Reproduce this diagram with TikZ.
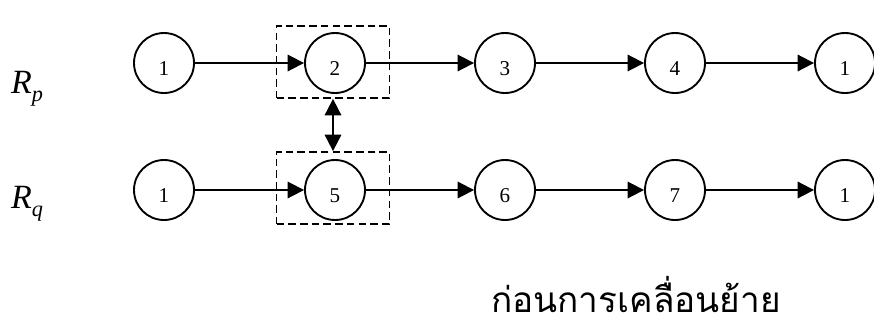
\documentclass[tikz,border=0pt]{standalone}
\usepackage{fontspec}
\setmainfont{Liberation Serif}
\newfontfamily\thaifont[Script=Thai]{Loma}
\usetikzlibrary{arrows.meta,positioning}

\begin{document}
\begin{tikzpicture}[
    x=0.03cm,y=-0.03cm,
    stop/.style={circle,draw,line width=1.6pt,minimum size=1.8cm,inner sep=0pt,
        font=\fontsize{18}{18}\selectfont,text height=0.75cm,text depth=0pt},
    route/.style={font=\fontsize{29}{29}\selectfont\itshape,anchor=base west,inner sep=0pt},
    hop/.style={-{Triangle[length=14pt,width=14pt]},line width=1.6pt},
    swapbox/.style={draw,dashed,dash pattern=on 6.5pt off 3.5pt,line width=1.5pt,
        minimum width=3.39cm,minimum height=2.16cm,inner sep=0pt},
    swap/.style={{Triangle[length=14pt,width=14pt]}-{Triangle[length=14pt,width=14pt]},line width=1.6pt}
]
\useasboundingbox (0,0) rectangle (874,331);

% route labels
\node[route] (rp) at (11,93) {R\raisebox{-7pt}{\fontsize{19}{19}\selectfont p}};
\node[route] (rq) at (11,208) {R\raisebox{-7pt}{\fontsize{19}{19}\selectfont q}};

% route p
\node[stop] (p1) at (164,63) {1};
\node[stop] (p2) at (335,63) {2};
\node[stop] (p3) at (505,63) {3};
\node[stop] (p4) at (675,63) {4};
\node[stop] (p5) at (845,63) {1};

% route q
\node[stop] (q1) at (164,190) {1};
\node[stop] (q2) at (335,190) {5};
\node[stop] (q3) at (505,190) {6};
\node[stop] (q4) at (675,190) {7};
\node[stop] (q5) at (845,190) {1};

% selected stops
\node[swapbox] (bp) at (333,62) {};
\node[swapbox] (bq) at (333,188) {};

\draw[hop] (p1) -- (p2);
\draw[hop] (p2) -- (p3);
\draw[hop] (p3) -- (p4);
\draw[hop] (p4) -- (p5);

\draw[hop] (q1) -- (q2);
\draw[hop] (q2) -- (q3);
\draw[hop] (q3) -- (q4);
\draw[hop] (q4) -- (q5);

\draw[swap] (bp) -- (bq);

\node[font=\thaifont\fontsize{30}{30}\selectfont,anchor=base,inner sep=0pt,text depth=0pt] (cap) at (636,312) {ก่อนการเคลื่อนย้าย};
\end{tikzpicture}
\end{document}
